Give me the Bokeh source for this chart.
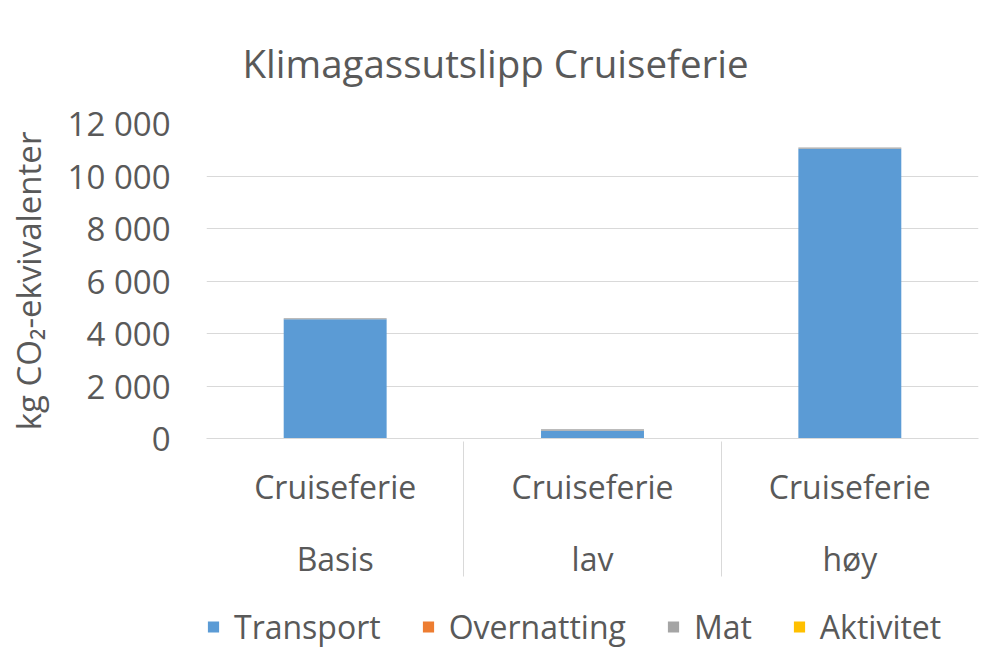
from bokeh.plotting import figure
from bokeh.layouts import column
from bokeh.models import (FactorRange, Range1d, Legend, LegendItem, FixedTicker,
                          CategoricalAxis, ColumnDataSource)
from bokeh.embed import file_html
from bokeh.resources import INLINE

# ---- data ----
scenarios = ["Basis", "lav", "høy"]
holiday = "Cruiseferie"
series = ["Transport", "Overnatting", "Mat", "Aktivitet"]
colors = ["#5B9BD5", "#ED7D31", "#A5A5A5", "#FFC000"]
transport = [4540, 300, 11040]
overnatting = [0, 0, 0]
mat = [45, 50, 50]
aktivitet = [0, 0, 0]
y_ticks = [0, 2000, 4000, 6000, 8000, 10000, 12000]
y_tick_labels = ["0", "2 000", "4 000", "6 000", "8 000", "10 000", "12 000"]

FONT = "Open Sans"
TXT = "#595959"
GRID = "#D9D9D9"
W = 988

factors = [(s, holiday) for s in scenarios]
source = ColumnDataSource(dict(x=factors, Transport=transport, Overnatting=overnatting,
                               Mat=mat, Aktivitet=aktivitet))

p = figure(width=W, height=598, output_backend="svg", toolbar_location=None,
           x_range=FactorRange(*factors, range_padding=0, group_padding=0, subgroup_padding=0, factor_padding=0),
           y_range=Range1d(0, 12000),
           min_border_left=206, min_border_right=10, min_border_top=121, min_border_bottom=160)
p.outline_line_color = None

renderers = p.vbar_stack(series, x="x", width=0.4, color=colors, line_color=None, source=source)

# title
p.title.text = "Klimagassutslipp Cruiseferie"
p.title.text_font = FONT
p.title.text_font_size = "38.5px"
p.title.text_font_style = "normal"
p.title.text_color = TXT
p.title.align = "left"
p.title.offset = 36
p.title.standoff = 69

# y axis
yax = p.yaxis[0]
yax.ticker = FixedTicker(ticks=y_ticks)
yax.major_label_overrides = {t: l for t, l in zip(y_ticks, y_tick_labels)}
yax.axis_line_color = None
yax.major_tick_line_color = None
yax.minor_tick_line_color = None
yax.major_tick_out = 0
yax.major_tick_in = 0
yax.major_label_standoff = 36
yax.major_label_text_font = FONT
yax.major_label_text_font_size = "33px"
yax.major_label_text_color = TXT
yax.axis_label = "kg CO\u2082-ekvivalenter"
yax.axis_label_text_font = FONT
yax.axis_label_text_font_size = "33px"
yax.axis_label_text_font_style = "normal"
yax.axis_label_text_color = TXT
yax.axis_label_standoff = 14
p.ygrid.ticker = FixedTicker(ticks=y_ticks)
p.ygrid.grid_line_color = GRID
p.xgrid.grid_line_color = None

# x axis (two-level categories)
xax = p.xaxis[0]
xax.axis_line_color = GRID
xax.major_tick_line_color = None
xax.minor_tick_line_color = None
xax.major_tick_out = 0
xax.major_tick_in = 0
xax.major_label_standoff = 26
xax.major_label_text_font = FONT
xax.major_label_text_font_size = "32px"
xax.major_label_text_color = TXT
xax.group_text_font = FONT
xax.group_text_font_size = "32px"
xax.group_text_font_style = "normal"
xax.group_text_color = TXT
xax.separator_line_color = GRID
xax.separator_line_width = 1

# outer edges of the category box, drawn as inward ticks of a helper axis
edge_names = ["left", "right"]
p.extra_x_ranges = {"edges": FactorRange(*edge_names, range_padding=-0.996,
                                         range_padding_units="absolute")}
edge_axis = CategoricalAxis(x_range_name="edges",
                            major_label_overrides={n: "" for n in edge_names},
                            major_label_text_font_size="1px", major_label_standoff=0,
                            axis_line_color=None, minor_tick_line_color=None,
                            major_tick_line_color=GRID, major_tick_in=140, major_tick_out=0)
p.add_layout(edge_axis, "below")

# legend strip under the chart (zero-height legend proxies in the series colours)
pl = figure(width=W, height=56, output_backend="svg", toolbar_location=None,
            x_range=Range1d(0, 1), y_range=Range1d(0, 1),
            min_border_left=0, min_border_right=0, min_border_top=0, min_border_bottom=0)
pl.axis.visible = False
pl.grid.grid_line_color = None
pl.outline_line_color = None
proxies = [pl.vbar(x=[0.5], top=[0], width=0.4, color=c, line_color=None) for c in colors]
legend = Legend(items=[LegendItem(label=s, renderers=[r]) for s, r in zip(series, proxies)],
                orientation="horizontal", location="left",
                label_text_font=FONT, label_text_font_size="32px", label_text_color=TXT,
                glyph_width=14, glyph_height=14, label_standoff=14, spacing=40,
                padding=4, margin=0,
                border_line_color=None, background_fill_alpha=0)
pl.add_layout(legend)

open("out.html", "w").write(file_html(column(p, pl, spacing=0), INLINE))
